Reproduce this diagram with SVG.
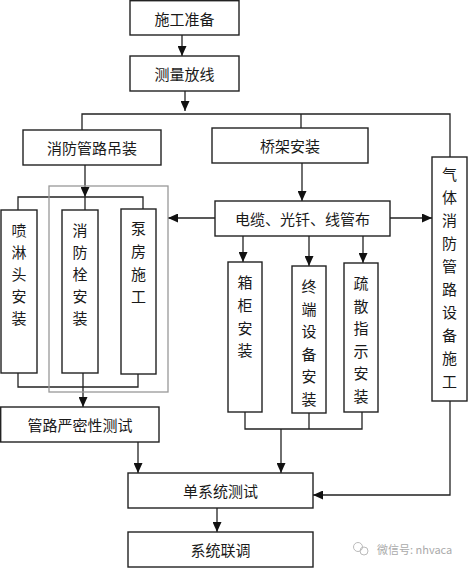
<svg xmlns="http://www.w3.org/2000/svg" width="468" height="570" viewBox="0 0 468 570">
<defs>
<marker id="ah" markerUnits="userSpaceOnUse" markerWidth="10" markerHeight="9" refX="10" refY="4.5" orient="auto">
<path d="M0,0 L10,4.5 L0,9 z" fill="#111"/>
</marker>
<style>
.box{fill:#fff;stroke:#222;stroke-width:1.4}
.t{font-family:"Noto Sans CJK SC","Noto Sans",sans-serif;font-size:15px;fill:#1a1a1a;text-anchor:middle;dominant-baseline:central}
.c{fill:none;stroke:#222;stroke-width:1.3}
.a{marker-end:url(#ah)}
.grp{fill:none;stroke:#999;stroke-width:1.3}
</style>
</defs>
<rect width="468" height="570" fill="#fff"/>

<g id="connectors">
<line class="c a" x1="182" y1="35" x2="182" y2="56"/>
<line class="c a" x1="185" y1="91" x2="185" y2="111"/>
<polyline class="c" points="82,130 82,114 450,114 450,157"/>
<line class="c" x1="301" y1="114" x2="301" y2="128"/>
<line class="c a" x1="85" y1="165" x2="85" y2="197"/>
<polyline class="c" points="18,210 18,197 143,197 143,209"/>
<line class="c" x1="85" y1="197" x2="85" y2="210"/>
<polyline class="c" points="18,373 18,387 138,387 138,374"/>
<line class="c a" x1="83" y1="373" x2="83" y2="407"/>
<line class="c a" x1="138" y1="442" x2="138" y2="473"/>
<line class="c a" x1="302" y1="163" x2="302" y2="201"/>
<line class="c a" x1="390" y1="218" x2="432" y2="218"/>
<line class="c a" x1="215" y1="218" x2="168" y2="218"/>
<line class="c a" x1="243" y1="236" x2="243" y2="262"/>
<line class="c a" x1="309" y1="236" x2="309" y2="266"/>
<line class="c a" x1="363" y1="236" x2="363" y2="263"/>
<polyline class="c" points="245,412 245,429 362,429 362,412"/>
<line class="c" x1="309" y1="413" x2="309" y2="429"/>
<line class="c a" x1="281" y1="429" x2="281" y2="473"/>
<polyline class="c a" points="450,401 450,495 313,495"/>
<line class="c a" x1="217" y1="508" x2="217" y2="532"/>
</g>

<rect id="group-frame" class="grp" x="49" y="186" width="119" height="206"/>

<g id="n-prep"><rect class="box" x="130" y="0.7" width="109" height="34.3"/><text class="t" x="184.5" y="18">施工准备</text></g>
<g id="n-survey"><rect class="box" x="130" y="56" width="109" height="35"/><text class="t" x="184.5" y="73.5">测量放线</text></g>
<g id="n-firepipe"><rect class="box" x="23" y="130" width="138" height="35"/><text class="t" x="92" y="147.5">消防管路吊装</text></g>
<g id="n-tray"><rect class="box" x="212" y="128" width="156" height="35"/><text class="t" x="290" y="145.5">桥架安装</text></g>
<g id="n-gas"><rect class="box" x="432" y="157" width="35" height="244"/>
<text class="t"><tspan x="449.5" y="173">气</tspan><tspan x="449.5" y="196">体</tspan><tspan x="449.5" y="219">消</tspan><tspan x="449.5" y="242">防</tspan><tspan x="449.5" y="265">管</tspan><tspan x="449.5" y="288">路</tspan><tspan x="449.5" y="311">设</tspan><tspan x="449.5" y="334">备</tspan><tspan x="449.5" y="357">施</tspan><tspan x="449.5" y="380">工</tspan></text></g>
<g id="n-cable"><rect class="box" x="215" y="201" width="175" height="35"/><text class="t" x="302.5" y="218.5">电缆、光钎、线管布</text></g>
<g id="n-sprinkler"><rect class="box" x="1" y="210" width="36" height="163"/>
<text class="t"><tspan x="19" y="229">喷</tspan><tspan x="19" y="251">淋</tspan><tspan x="19" y="273">头</tspan><tspan x="19" y="295">安</tspan><tspan x="19" y="317">装</tspan></text></g>
<g id="n-hydrant"><rect class="box" x="62" y="210" width="36" height="163"/>
<text class="t"><tspan x="80" y="229">消</tspan><tspan x="80" y="251">防</tspan><tspan x="80" y="273">栓</tspan><tspan x="80" y="295">安</tspan><tspan x="80" y="317">装</tspan></text></g>
<g id="n-pump"><rect class="box" x="121" y="209" width="35" height="165"/>
<text class="t"><tspan x="138.5" y="227">泵</tspan><tspan x="138.5" y="250">房</tspan><tspan x="138.5" y="273">施</tspan><tspan x="138.5" y="295">工</tspan></text></g>
<g id="n-cabinet"><rect class="box" x="228" y="262" width="34" height="150"/>
<text class="t"><tspan x="245" y="281">箱</tspan><tspan x="245" y="304">柜</tspan><tspan x="245" y="327">安</tspan><tspan x="245" y="349">装</tspan></text></g>
<g id="n-terminal"><rect class="box" x="292" y="266" width="34" height="147"/>
<text class="t"><tspan x="309" y="285">终</tspan><tspan x="309" y="308">端</tspan><tspan x="309" y="330">设</tspan><tspan x="309" y="353">备</tspan><tspan x="309" y="375">安</tspan><tspan x="309" y="398">装</tspan></text></g>
<g id="n-evac"><rect class="box" x="344" y="263" width="34" height="149"/>
<text class="t"><tspan x="361" y="282">疏</tspan><tspan x="361" y="305">散</tspan><tspan x="361" y="327">指</tspan><tspan x="361" y="350">示</tspan><tspan x="361" y="372">安</tspan><tspan x="361" y="395">装</tspan></text></g>
<g id="n-leaktest"><rect class="box" x="0.7" y="407" width="158.3" height="35"/><text class="t" x="80" y="424.5">管路严密性测试</text></g>
<g id="n-systest"><rect class="box" x="128" y="473" width="185" height="35"/><text class="t" x="220.5" y="490.5">单系统测试</text></g>
<g id="n-joint"><rect class="box" x="128" y="532" width="185" height="35"/><text class="t" x="220.5" y="549.5">系统联调</text></g>

<g id="watermark">
<circle cx="358" cy="547" r="4.5" fill="none" stroke="#bbb" stroke-width="1"/>
<circle cx="364" cy="551" r="4" fill="none" stroke="#bbb" stroke-width="1"/>
<text x="377" y="549" font-family="'Noto Sans CJK SC','Noto Sans',sans-serif" font-size="11" fill="#aaa" dominant-baseline="central">微信号: nhvaca</text>
</g>
</svg>
